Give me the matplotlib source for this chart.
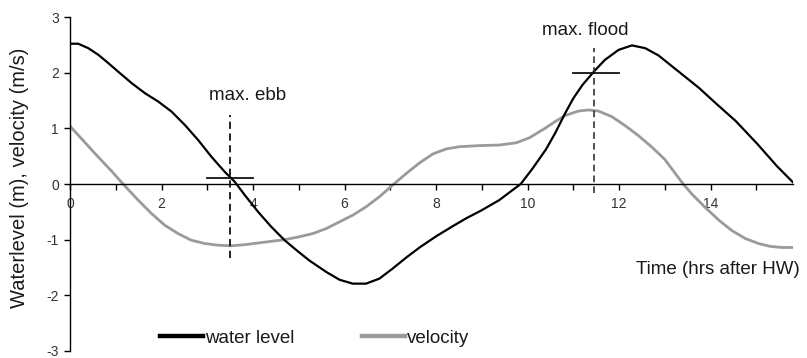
import matplotlib
matplotlib.use("Agg")
import matplotlib.pyplot as plt
from matplotlib.ticker import FixedLocator, FixedFormatter

plt.rcParams['font.family'] = ['Liberation Sans', 'DejaVu Sans']

# ---- data ----
wl_hours = [0, 0.18, 0.4, 0.62, 0.84, 1.05, 1.35, 1.64, 1.93, 2.22, 2.51, 2.8, 3.09,
            3.38, 3.6, 3.82, 4.11, 4.4, 4.69, 4.98, 5.24, 5.6, 5.89, 6.18, 6.47, 6.76,
            7.05, 7.35, 7.64, 8.0, 8.36, 8.65, 9.0, 9.38, 9.67, 9.85, 10.11, 10.4,
            10.6, 10.82, 11.0, 11.2, 11.46, 11.69, 11.99, 12.28, 12.57, 12.86, 13.3, 13.74,
            14.1, 14.55, 15.02, 15.45, 15.8]
water_level = [2.52, 2.52, 2.44, 2.32, 2.17, 2.02, 1.81, 1.63, 1.48, 1.30, 1.06, 0.79, 0.49,
               0.22, 0.04, -0.20, -0.50, -0.77, -1.01, -1.21, -1.38, -1.58, -1.72, -1.79, -1.79, -1.70,
               -1.52, -1.32, -1.14, -0.94, -0.76, -0.62, -0.47, -0.29, -0.11, 0.0, 0.28, 0.62,
               0.91, 1.27, 1.54, 1.78, 2.03, 2.23, 2.41, 2.49, 2.44, 2.31, 2.02, 1.73,
               1.46, 1.13, 0.72, 0.32, 0.03]

vel_hours = [0, 0.3, 0.6, 0.9, 1.16, 1.49, 1.78, 2.07, 2.36, 2.65, 2.95, 3.24, 3.53, 3.82,
             4.11, 4.4, 4.69, 5.0, 5.31, 5.6, 5.89, 6.18, 6.47, 6.76, 7.05, 7.35, 7.64,
             7.93, 8.22, 8.51, 8.95, 9.38, 9.75, 10.04, 10.38, 10.6, 10.82, 11.11, 11.33,
             11.55, 11.84, 12.13, 12.42, 12.72, 13.0, 13.2, 13.4, 13.59, 13.88, 14.18,
             14.47, 14.76, 15.05, 15.3, 15.55, 15.8]
velocity = [1.04, 0.77, 0.50, 0.24, 0.0, -0.29, -0.53, -0.74, -0.89, -1.01, -1.07, -1.10, -1.11, -1.09,
            -1.06, -1.03, -1.00, -0.95, -0.89, -0.80, -0.68, -0.56, -0.41, -0.23, -0.02, 0.19, 0.38,
            0.54, 0.63, 0.67, 0.69, 0.70, 0.74, 0.83, 1.00, 1.12, 1.23, 1.31, 1.33,
            1.31, 1.21, 1.05, 0.87, 0.66, 0.44, 0.22, 0.0, -0.18, -0.42, -0.65,
            -0.84, -0.98, -1.07, -1.12, -1.14, -1.14]

series_labels = ["water level", "velocity"]

ebb_time = 3.5
ebb_vline = [-1.33, 1.24]
ebb_hline_x = [3.0, 4.0]
ebb_hline_y = 0.1
flood_time = 11.45
flood_vline = [-0.17, 2.45]
flood_hline_x = [11.0, 12.0]
flood_hline_y = 2.0

x_ticks = list(range(0, 16))
x_ticklabels = [str(t) if t % 2 == 0 else "" for t in x_ticks]
y_ticks = [-3, -2, -1, 0, 1, 2, 3]
y_ticklabels = ["-3", "-2", "-1", "0", "1", "2", "3"]

# ---- figure ----
W, H = 807, 358
fig = plt.figure(figsize=(W / 100, H / 100), dpi=100)
ax = fig.add_axes([70 / W, 1 - 351 / H, (793 - 70) / W, (351 - 17) / H])

l1, = ax.plot(wl_hours, water_level, color='black', lw=1.6, label=series_labels[0],
              zorder=3, solid_joinstyle='round')
l2, = ax.plot(vel_hours, velocity, color='#9a9a9a', lw=2.0, label=series_labels[1],
              zorder=2, solid_joinstyle='round')

dash = (0, (4, 2.5))
ax.plot([ebb_time, ebb_time], ebb_vline, color='#111111', lw=1.3, linestyle=dash, zorder=4)
ax.plot(ebb_hline_x, [ebb_hline_y, ebb_hline_y], color='#111111', lw=1.3, zorder=4)
ax.plot([flood_time, flood_time], flood_vline, color='#333333', lw=1.2, linestyle=dash, zorder=4)
ax.plot(flood_hline_x, [flood_hline_y, flood_hline_y], color='#111111', lw=1.3, zorder=4)

ax.text(3.89, 1.59, "max. ebb", ha='center', va='center', fontsize=13.5, color='#1a1a1a')
ax.text(11.27, 2.76, "max. flood", ha='center', va='center', fontsize=13.5, color='#1a1a1a')

ax.set_xlim(0, 15.8)
ax.set_ylim(-3, 3)

for s in ['top', 'right']:
    ax.spines[s].set_visible(False)
ax.spines['bottom'].set_position(('data', 0))
ax.spines['bottom'].set_linewidth(1.0)
ax.spines['left'].set_linewidth(1.0)

ax.xaxis.set_major_locator(FixedLocator(x_ticks))
ax.xaxis.set_major_formatter(FixedFormatter(x_ticklabels))
ax.yaxis.set_major_locator(FixedLocator(y_ticks))
ax.yaxis.set_major_formatter(FixedFormatter(y_ticklabels))
ax.tick_params(axis='x', direction='out', length=4, width=1.0, pad=5,
               labelsize=10, labelcolor='#333333')
ax.tick_params(axis='y', direction='out', length=4, width=1.0, pad=4,
               labelsize=10, labelcolor='#333333')

fig.text(20 / W, 1 - 178 / H, "Waterlevel (m), velocity (m/s)", rotation=90,
         ha='center', va='center', fontsize=14.5, color='#1a1a1a')
fig.text(800 / W, 1 - 270 / H, "Time (hrs after HW)", ha='right', va='center',
         fontsize=13.5, color='#1a1a1a')

leg = fig.legend(handles=[l1, l2], labels=series_labels, loc='center left',
                 bbox_to_anchor=(160 / W, 1 - 338 / H), ncol=2, frameon=False,
                 fontsize=13.5, handlelength=2.3, handletextpad=0.1,
                 columnspacing=3.6, borderpad=0, borderaxespad=0)
for ln in leg.get_lines():
    ln.set_linewidth(3.2)
for t in leg.get_texts():
    t.set_color('#1a1a1a')

fig.savefig("out.png", dpi=100)
